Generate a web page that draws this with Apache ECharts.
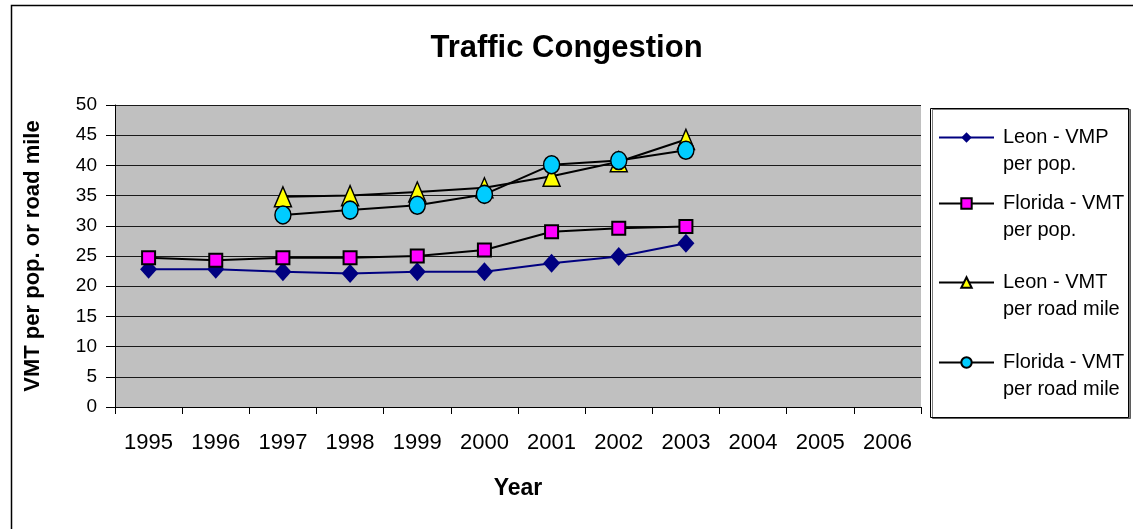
<!DOCTYPE html>
<html>
<head>
<meta charset="utf-8">
<script src="https://cdn.jsdelivr.net/npm/echarts@6/dist/echarts.min.js"></script>
<style>
html,body{margin:0;padding:0;background:#fff;}
#chart{width:1133px;height:529px;}
</style>
</head>
<body>
<div id="chart"></div>
<script>
const years = ['1995','1996','1997','1998','1999','2000','2001','2002','2003','2004','2005','2006'];
const seriesNames = ['Leon - VMP\nper pop.', 'Florida - VMT\nper pop.', 'Leon - VMT\nper road mile', 'Florida - VMT\nper road mile'];
const leonPerPop = [22.8, 22.8, 22.4, 22.1, 22.4, 22.4, 23.8, 24.9, 27.1, null, null, null];
const floridaPerPop = [24.7, 24.3, 24.7, 24.7, 25.0, 26.0, 29.0, 29.6, 29.9, null, null, null];
const leonPerRoadMile = [null, null, 34.8, 35.0, 35.6, 36.3, 38.2, 40.6, 44.3, null, null, null];
const floridaPerRoadMile = [null, null, 31.8, 32.6, 33.4, 35.2, 40.1, 40.8, 42.5, null, null, null];
const yTicks = {min: 0, max: 50, interval: 5};

const FONT = 'Arial, "Liberation Sans", sans-serif';
const chart = echarts.init(document.getElementById('chart'), null, {renderer: 'canvas'});

const legendTops = [97, 163, 242, 322];
function mkLegend(i) {
  return {
    data: [seriesNames[i]],
    orient: 'vertical',
    left: 938,
    top: legendTops[i],
    padding: 0,
    itemWidth: 55,
    itemHeight: 13,
    selectedMode: false,
    formatter: function (name) { return '\n' + name; },
    textStyle: {fontFamily: FONT, fontSize: 20, color: '#000', lineHeight: 27, padding: [0, 0, 0, 4]}
  };
}

const option = {
  backgroundColor: '#fff',
  animation: false,
  title: {
    text: 'Traffic Congestion',
    left: 'center',
    top: 28,
    textStyle: {fontFamily: FONT, fontSize: 31, fontWeight: 'bold', color: '#000'}
  },
  graphic: [
    {type: 'rect', shape: {x: 11.5, y: 5.5, width: 1140, height: 540}, style: {fill: 'none', stroke: '#000', lineWidth: 1.5}, silent: true, z: -1},
    {type: 'rect', shape: {x: 930.5, y: 108.5, width: 198, height: 309}, style: {fill: '#fff', stroke: '#000', lineWidth: 1, shadowColor: 'rgba(0,0,0,0.5)', shadowOffsetX: 2, shadowOffsetY: 1}, silent: true, z: -1}
  ],
  legend: [mkLegend(0), mkLegend(1), mkLegend(2), mkLegend(3)],
  grid: {left: 115, right: 212, top: 105, bottom: 122, show: true, backgroundColor: '#C0C0C0', borderWidth: 0},
  xAxis: {
    type: 'category',
    data: years,
    boundaryGap: true,
    name: 'Year',
    nameLocation: 'middle',
    nameGap: 70,
    nameTextStyle: {fontFamily: FONT, fontSize: 23, fontWeight: 'bold', color: '#000'},
    axisLine: {show: true, lineStyle: {color: '#000', width: 1}},
    axisTick: {show: true, length: 7, alignWithLabel: false, lineStyle: {color: '#000'}},
    axisLabel: {fontFamily: FONT, fontSize: 22, color: '#000', margin: 25, interval: 0},
    splitLine: {show: false}
  },
  yAxis: {
    type: 'value',
    min: yTicks.min,
    max: yTicks.max,
    interval: yTicks.interval,
    name: 'VMT per pop. or road mile',
    nameLocation: 'middle',
    nameGap: 71,
    nameTextStyle: {fontFamily: FONT, fontSize: 22, fontWeight: 'bold', color: '#000'},
    axisLine: {show: true, lineStyle: {color: '#000', width: 1}},
    axisTick: {show: true, length: 9, lineStyle: {color: '#000'}},
    axisLabel: {fontFamily: FONT, fontSize: 19, color: '#000', margin: 18},
    splitLine: {show: true, lineStyle: {color: '#1a1a1a', width: 1}}
  },
  series: [
    {
      name: seriesNames[0], type: 'line', data: leonPerPop,
      symbol: 'diamond', symbolSize: [17, 19],
      lineStyle: {color: '#000080', width: 2},
      itemStyle: {color: '#000080', borderWidth: 0}
    },
    {
      name: seriesNames[1], type: 'line', data: floridaPerPop,
      symbol: 'rect', symbolSize: [13, 13],
      lineStyle: {color: '#000', width: 2},
      itemStyle: {color: '#FF00FF', borderColor: '#000', borderWidth: 2}
    },
    {
      name: seriesNames[2], type: 'line', data: leonPerRoadMile,
      symbol: 'triangle', symbolSize: [17, 20],
      lineStyle: {color: '#000', width: 2},
      itemStyle: {color: '#FFFF00', borderColor: '#000', borderWidth: 1.5}
    },
    {
      name: seriesNames[3], type: 'line', data: floridaPerRoadMile,
      symbol: 'circle', symbolSize: [16, 18],
      lineStyle: {color: '#000', width: 2},
      itemStyle: {color: '#00CCFF', borderColor: '#000', borderWidth: 1.5}
    }
  ]
};
chart.setOption(option);
</script>
</body>
</html>
